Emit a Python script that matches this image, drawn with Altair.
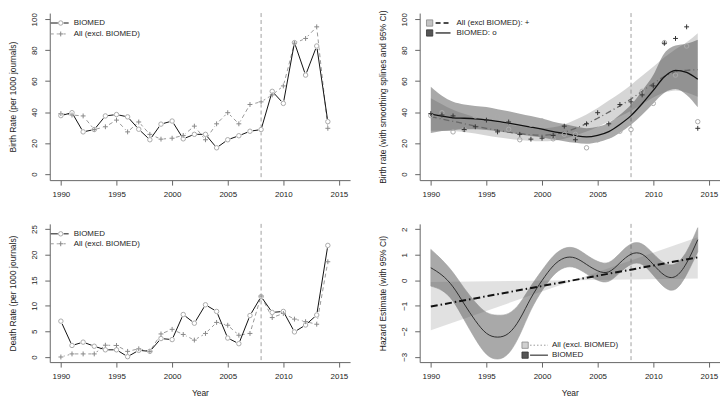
import altair as alt
import pandas as pd

# ---------------- data ----------------
years = list(range(1990, 2015))

bio_birth = [37.7, 39.6, 27.2, 28.7, 37.5, 38.4, 36.9, 28.9, 22.1, 32.2, 34.2, 22.7, 25.6,
             25.6, 16.9, 22.1, 24.7, 27.6, 28.7, 53.4, 45.6, 84.9, 63.9, 82.7, 33.8]
all_birth = [39.0, 38.1, 37.5, 28.7, 30.5, 34.8, 27.2, 33.6, 25.6, 22.5, 23.1, 24.9, 30.9,
             22.1, 32.4, 39.6, 32.4, 44.9, 46.6, 51.1, 56.9, 84.5, 87.6, 95.1, 29.5]

bio_death = [7.0, 2.25, 2.9, 2.1, 1.4, 1.4, 0.06, 1.3, 1.1, 3.6, 3.4, 8.3, 6.6, 10.2, 8.9,
             3.7, 2.6, 8.1, 11.8, 8.7, 8.9, 4.9, 6.25, 8.2, 21.8]
all_death = [0.0, 0.6, 0.6, 0.6, 2.3, 2.25, 1.1, 1.6, 1.1, 4.5, 5.4, 4.4, 3.3, 4.6, 6.75,
             6.2, 4.25, 4.6, 11.9, 7.7, 8.5, 7.4, 6.9, 6.4, 18.6]

# smoothing splines (top right)
bio_smooth = [38.6, 37.4, 36.3, 36.0, 35.6, 35.0, 34.0, 32.8, 31.5, 30.3, 29.0, 27.4, 26.2,
              24.8, 24.0, 25.0, 27.4, 32.0, 37.7, 45.4, 54.0, 62.9, 67.0, 65.6, 61.2]
bio_lo = [26.4, 27.7, 28.3, 28.9, 28.9, 28.4, 27.6, 26.6, 25.5, 24.6, 23.5, 22.2, 21.2,
          20.1, 19.5, 20.5, 22.7, 26.7, 31.8, 38.3, 45.6, 52.5, 54.9, 51.1, 43.1]
bio_hi = [56.4, 50.5, 46.6, 44.9, 43.9, 43.2, 41.9, 40.5, 38.9, 37.4, 35.8, 33.8, 32.3,
          30.6, 29.6, 30.5, 33.1, 38.3, 44.7, 53.8, 64.0, 78.0, 83.0, 84.2, 86.8]
all_smooth = [37.0, 35.5, 34.0, 32.5, 31.0, 29.5, 28.2, 27.0, 26.0, 25.3, 25.0, 25.5, 27.0,
              29.5, 32.5, 36.0, 40.0, 44.0, 48.5, 53.5, 58.5, 63.0, 66.0, 67.0, 67.4]
all_lo = [28.0, 27.9, 27.8, 27.1, 26.2, 24.9, 23.8, 22.8, 21.9, 21.3, 21.1, 21.5, 22.8,
          24.9, 27.4, 30.4, 33.7, 37.1, 40.9, 45.1, 49.4, 52.6, 54.0, 52.7, 49.9]
all_hi = [49.0, 45.1, 41.5, 38.9, 36.7, 35.0, 33.4, 32.0, 30.8, 30.0, 29.6, 30.2, 32.0,
          35.0, 38.5, 42.7, 47.4, 52.2, 57.5, 63.4, 69.3, 75.4, 80.6, 85.2, 91.0]

# hazard estimates (bottom right)
bio_haz = [0.49, 0.20, -0.26, -0.93, -1.58, -2.08, -2.23, -2.08, -1.52, -0.70, -0.01, 0.56,
           0.87, 0.87, 0.62, 0.37, 0.33, 0.68, 1.02, 1.02, 0.62, 0.20, 0.15, 0.68, 1.59]
bio_haz_lo = [-0.23, -0.40, -0.82, -1.55, -2.30, -2.90, -3.09, -2.86, -2.14, -1.17, -0.41,
              0.18, 0.49, 0.49, 0.25, 0.00, -0.04, 0.30, 0.62, 0.62, 0.20, -0.27, -0.35,
              0.23, 1.12]
bio_haz_hi = [1.21, 0.80, 0.30, -0.31, -0.86, -1.26, -1.37, -1.30, -0.90, -0.23, 0.39, 0.94,
              1.25, 1.25, 0.99, 0.74, 0.70, 1.06, 1.42, 1.42, 1.04, 0.67, 0.65, 1.13, 2.06]
all_haz_years = [1990, 2014]
all_haz = [-1.03, 0.90]
all_band_years = [1990, 2002.9, 2014]
all_band_lo = [-1.96, 0.0, 0.07]
all_band_hi = [-0.07, 0.0, 1.69]

x_ticks = [1990, 1995, 2000, 2005, 2010, 2015]
marker_year = 2008

# ---------------- tables ----------------
df_birth = pd.DataFrame({"year": years, "bio": bio_birth, "all": all_birth})
df_death = pd.DataFrame({"year": years, "bio": bio_death, "all": all_death})
df_smooth = pd.DataFrame({"year": years, "bs": bio_smooth, "blo": bio_lo, "bhi": bio_hi,
                          "as": all_smooth, "alo": all_lo, "ahi": all_hi})
df_haz = pd.DataFrame({"year": years, "h": bio_haz, "lo": bio_haz_lo, "hi": bio_haz_hi})
df_haz_all = pd.DataFrame({"year": all_haz_years, "h": all_haz})
df_haz_band = pd.DataFrame({"year": all_band_years, "lo": all_band_lo, "hi": all_band_hi})
one = pd.DataFrame({"k": [0]})

W = 302
H_TOP = 168
H_BOT = 139
FS = 8
PLUS = "M-1,0L1,0M0,-1L0,1"
PLUS_SIZE = 24
CIRC_SIZE = 20
GAP_SIZE = 34


def xenc(title=None):
    ax = alt.Axis(values=x_ticks, format="d", tickSize=5, labelPadding=5, titlePadding=9)
    return alt.X("year:Q", scale=alt.Scale(domain=[1989, 2016], nice=False, zero=False),
                 axis=ax, title=title)


def yenc(field, domain, ticks, title):
    ax = alt.Axis(values=ticks, labelAngle=270, labelAlign="center", labelBaseline="bottom",
                  tickSize=5, labelPadding=6, titlePadding=13, format="d")
    return alt.Y(f"{field}:Q", scale=alt.Scale(domain=domain, nice=False, zero=False),
                 axis=ax, title=title)


def vline():
    return alt.Chart(one).mark_rule(color="#a0a0a0", strokeDash=[4, 3], strokeWidth=1).encode(
        x=alt.datum(marker_year))


def leg_rule(x1, x2, y, color, width=1.0, dash=None):
    kw = dict(color=color, strokeWidth=width)
    if dash:
        kw["strokeDash"] = dash
    return alt.Chart(one).mark_rule(**kw).encode(x=alt.value(x1), x2=alt.value(x2), y=alt.value(y))


def leg_text(x, y, s):
    return alt.Chart(one).mark_text(align="left", baseline="middle", fontSize=FS,
                                    color="#222222").encode(
        x=alt.value(x), y=alt.value(y), text=alt.value(s))


def leg_pt(x, y, **kw):
    return alt.Chart(one).mark_point(**kw).encode(x=alt.value(x), y=alt.value(y))


def leg_box(x, y, fill, stroke):
    return alt.Chart(one).mark_point(shape="square", filled=True, fill=fill, stroke=stroke,
                                     strokeWidth=0.8, size=40, opacity=1).encode(
        x=alt.value(x), y=alt.value(y))


def rate_panel(df, ydom, yticks, ytitle, xtitle, h, legy):
    X = xenc(xtitle)
    Yb = yenc("bio", ydom, yticks, ytitle)
    Ya = yenc("all", ydom, yticks, ytitle)
    base = alt.Chart(df)
    line_all = base.mark_line(color="#999999", strokeDash=[4, 3], strokeWidth=1).encode(x=X, y=Ya)
    gap_all = base.mark_point(shape="circle", filled=True, fill="white", strokeWidth=0,
                              size=GAP_SIZE, opacity=1).encode(x=X, y=Ya)
    line_bio = base.mark_line(color="#111111", strokeWidth=1).encode(x=X, y=Yb)
    gap_bio = base.mark_point(shape="circle", filled=True, fill="white", strokeWidth=0,
                              size=GAP_SIZE, opacity=1).encode(x=X, y=Yb)
    pts_all = base.mark_point(shape=PLUS, filled=False, color="#888888", strokeWidth=1,
                              size=PLUS_SIZE, opacity=1).encode(x=X, y=Ya)
    pts_bio = base.mark_point(shape="circle", filled=False, color="#aaaaaa", strokeWidth=1,
                              size=CIRC_SIZE, opacity=1).encode(x=X, y=Yb)
    y1, y2 = legy
    legend = [
        leg_rule(1, 19, y1, "#111111"),
        leg_pt(11, y1, shape="circle", filled=True, fill="white", strokeWidth=0, size=GAP_SIZE, opacity=1),
        leg_pt(11, y1, shape="circle", filled=False, color="#aaaaaa", strokeWidth=1, size=CIRC_SIZE, opacity=1),
        leg_text(24, y1, "BIOMED"),
        leg_rule(1, 19, y2, "#999999", dash=[3, 3]),
        leg_pt(11, y2, shape="circle", filled=True, fill="white", strokeWidth=0, size=GAP_SIZE, opacity=1),
        leg_pt(11, y2, shape=PLUS, filled=False, color="#888888", strokeWidth=1, size=PLUS_SIZE, opacity=1),
        leg_text(24, y2, "All (excl. BIOMED)"),
    ]
    return alt.layer(vline(), line_all, gap_all, line_bio, gap_bio, pts_all, pts_bio,
                     *legend).properties(width=W, height=h)


tl = rate_panel(df_birth, [-4, 104], [0, 20, 40, 60, 80, 100],
                "Birth Rate (per 1000 journals)", None, H_TOP, (10, 21))
bl = rate_panel(df_death, [-1, 26], [0, 5, 10, 15, 20, 25],
                "Death Rate (per 1000 journals)", "Year", H_BOT, (10, 20))

# ---- top right: smoothing splines ----
X = xenc(None)
tr_title = "Birth rate (with smoothing splines and 95% CI)"
bdom = [-4, 104]
bt = [0, 20, 40, 60, 80, 100]
sm = alt.Chart(df_smooth)
band_all = sm.mark_area(color="#808080", opacity=0.32, interpolate="monotone").encode(
    x=X, y=yenc("alo", bdom, bt, tr_title), y2="ahi:Q")
band_bio = sm.mark_area(color="#404040", opacity=0.45, interpolate="monotone").encode(
    x=X, y=yenc("blo", bdom, bt, tr_title), y2="bhi:Q")
sline_all = sm.mark_line(color="#666666", strokeWidth=1.3, strokeDash=[6, 3, 1, 3],
                         interpolate="monotone").encode(x=X, y=yenc("as", bdom, bt, tr_title))
sline_bio = sm.mark_line(color="#111111", strokeWidth=1.3, interpolate="monotone").encode(
    x=X, y=yenc("bs", bdom, bt, tr_title))
bp = alt.Chart(df_birth)
spts_bio = bp.mark_point(shape="circle", filled=False, color="#aaaaaa", strokeWidth=1,
                         size=CIRC_SIZE, opacity=1).encode(x=X, y=yenc("bio", bdom, bt, tr_title))
spts_all = bp.mark_point(shape=PLUS, filled=False, color="#333333", strokeWidth=1,
                         size=PLUS_SIZE, opacity=1).encode(x=X, y=yenc("all", bdom, bt, tr_title))
tr_legend = [
    leg_box(10, 10, "#c4c4c4", "#888888"),
    leg_rule(16, 31, 10, "#111111", width=1.6, dash=[5, 3]),
    leg_text(37, 10, "All (excl BIOMED): +"),
    leg_box(10, 20, "#555555", "#333333"),
    leg_rule(16, 31, 20, "#111111", width=1.2),
    leg_text(37, 20, "BIOMED: o"),
]
tr = alt.layer(vline(), band_all, band_bio, sline_all, sline_bio, spts_bio, spts_all,
               *tr_legend).properties(width=W, height=H_TOP)

# ---- bottom right: hazard ----
Xb = xenc("Year")
hz_title = "Hazard Estimate (with 95% CI)"
hdom = [-3.21, 2.21]
ht = [-3, -2, -1, 0, 1, 2]
hband_all = alt.Chart(df_haz_band).mark_area(color="#888888", opacity=0.25).encode(
    x=Xb, y=yenc("lo", hdom, ht, hz_title), y2="hi:Q")
hband_bio = alt.Chart(df_haz).mark_area(color="#555555", opacity=0.5, interpolate="natural",
                                        stroke="#444444", strokeWidth=0.6).encode(
    x=Xb, y=yenc("lo", hdom, ht, hz_title), y2="hi:Q")
hline_bio = alt.Chart(df_haz).mark_line(color="#222222", strokeWidth=0.9,
                                        interpolate="natural").encode(
    x=Xb, y=yenc("h", hdom, ht, hz_title))
hline_all = alt.Chart(df_haz_all).mark_line(color="#111111", strokeWidth=2,
                                            strokeDash=[7, 3, 1.5, 3]).encode(
    x=Xb, y=yenc("h", hdom, ht, hz_title))
br_legend = [
    leg_box(106, 122, "#d0d0d0", "#888888"),
    leg_rule(111, 129, 122, "#999999", dash=[1.5, 2]),
    leg_text(133, 122, "All (excl. BIOMED)"),
    leg_box(106, 132, "#555555", "#333333"),
    leg_rule(111, 129, 132, "#111111"),
    leg_text(133, 132, "BIOMED"),
]
br = alt.layer(vline(), hband_all, hband_bio, hline_bio, hline_all,
               *br_legend).properties(width=W, height=H_BOT)

chart = alt.concat(tl, tr, bl, br, columns=2, bounds="flush",
                   spacing=alt.RowColnumber(row=44, column=70)).resolve_scale(
    x="independent", y="independent").properties(padding=0).configure(
    font="Liberation Sans").configure_axis(
    labelFont="Liberation Sans", titleFont="Liberation Sans", labelFontSize=FS,
    titleFontSize=8.5, titleFontWeight="normal", grid=False, domainColor="#666666",
    tickColor="#666666", labelColor="#222222", titleColor="#222222",
    domainWidth=1, tickWidth=1).configure_view(stroke=None)

chart.save("out.html", embed_options={"renderer": "svg", "actions": False})
